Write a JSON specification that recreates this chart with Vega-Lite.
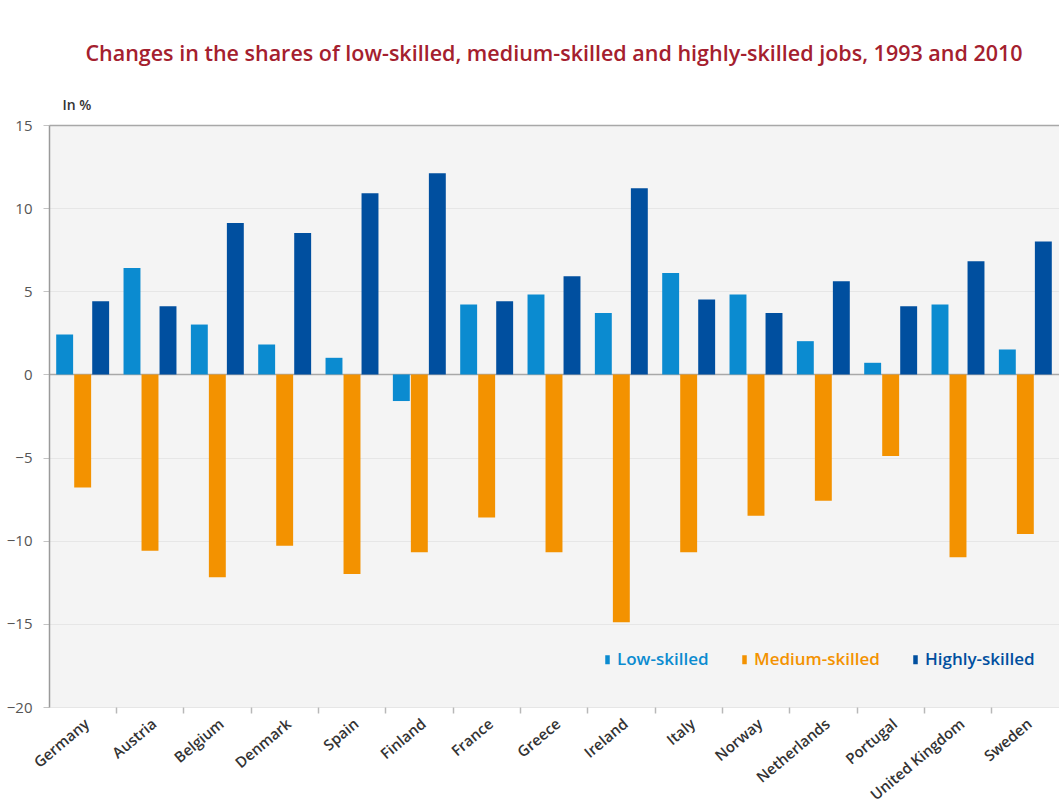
{
  "$schema": "https://vega.github.io/schema/vega-lite/v6.json",
  "width": 1010,
  "height": 582,
  "autosize": {"type": "none"},
  "padding": {"left": 49, "top": 125, "right": 0, "bottom": 103},
  "background": "white",
  "title": {
    "text": "Changes in the shares of low-skilled, medium-skilled and highly-skilled jobs, 1993 and 2010",
    "color": "#a4202e",
    "font": "Open Sans",
    "fontSize": 21.5,
    "fontWeight": 600,
    "anchor": "middle",
    "offset": 33
  },
  "config": {
    "view": {"fill": "#f4f4f4", "stroke": null},
    "font": "Open Sans"
  },
  "data": {
    "values": [
      {"country": "Germany", "skill": "Low-skilled", "change": 2.4},
      {"country": "Germany", "skill": "Medium-skilled", "change": -6.8},
      {"country": "Germany", "skill": "Highly-skilled", "change": 4.4},
      {"country": "Austria", "skill": "Low-skilled", "change": 6.4},
      {"country": "Austria", "skill": "Medium-skilled", "change": -10.6},
      {"country": "Austria", "skill": "Highly-skilled", "change": 4.1},
      {"country": "Belgium", "skill": "Low-skilled", "change": 3.0},
      {"country": "Belgium", "skill": "Medium-skilled", "change": -12.2},
      {"country": "Belgium", "skill": "Highly-skilled", "change": 9.1},
      {"country": "Denmark", "skill": "Low-skilled", "change": 1.8},
      {"country": "Denmark", "skill": "Medium-skilled", "change": -10.3},
      {"country": "Denmark", "skill": "Highly-skilled", "change": 8.5},
      {"country": "Spain", "skill": "Low-skilled", "change": 1.0},
      {"country": "Spain", "skill": "Medium-skilled", "change": -12.0},
      {"country": "Spain", "skill": "Highly-skilled", "change": 10.9},
      {"country": "Finland", "skill": "Low-skilled", "change": -1.6},
      {"country": "Finland", "skill": "Medium-skilled", "change": -10.7},
      {"country": "Finland", "skill": "Highly-skilled", "change": 12.1},
      {"country": "France", "skill": "Low-skilled", "change": 4.2},
      {"country": "France", "skill": "Medium-skilled", "change": -8.6},
      {"country": "France", "skill": "Highly-skilled", "change": 4.4},
      {"country": "Greece", "skill": "Low-skilled", "change": 4.8},
      {"country": "Greece", "skill": "Medium-skilled", "change": -10.7},
      {"country": "Greece", "skill": "Highly-skilled", "change": 5.9},
      {"country": "Ireland", "skill": "Low-skilled", "change": 3.7},
      {"country": "Ireland", "skill": "Medium-skilled", "change": -14.9},
      {"country": "Ireland", "skill": "Highly-skilled", "change": 11.2},
      {"country": "Italy", "skill": "Low-skilled", "change": 6.1},
      {"country": "Italy", "skill": "Medium-skilled", "change": -10.7},
      {"country": "Italy", "skill": "Highly-skilled", "change": 4.5},
      {"country": "Norway", "skill": "Low-skilled", "change": 4.8},
      {"country": "Norway", "skill": "Medium-skilled", "change": -8.5},
      {"country": "Norway", "skill": "Highly-skilled", "change": 3.7},
      {"country": "Netherlands", "skill": "Low-skilled", "change": 2.0},
      {"country": "Netherlands", "skill": "Medium-skilled", "change": -7.6},
      {"country": "Netherlands", "skill": "Highly-skilled", "change": 5.6},
      {"country": "Portugal", "skill": "Low-skilled", "change": 0.7},
      {"country": "Portugal", "skill": "Medium-skilled", "change": -4.9},
      {"country": "Portugal", "skill": "Highly-skilled", "change": 4.1},
      {"country": "United Kingdom", "skill": "Low-skilled", "change": 4.2},
      {"country": "United Kingdom", "skill": "Medium-skilled", "change": -11.0},
      {"country": "United Kingdom", "skill": "Highly-skilled", "change": 6.8},
      {"country": "Sweden", "skill": "Low-skilled", "change": 1.5},
      {"country": "Sweden", "skill": "Medium-skilled", "change": -9.6},
      {"country": "Sweden", "skill": "Highly-skilled", "change": 8.0}
    ]
  },
  "layer": [
    {
      "mark": {"type": "bar"},
      "encoding": {
        "x": {
          "field": "country",
          "type": "nominal",
          "sort": null,
          "scale": {"paddingInner": 0, "paddingOuter": 0},
          "axis": {
            "title": null,
            "labelAngle": -40,
            "ticks": false,
            "domain": false,
            "grid": false,
            "labelFont": "Open Sans",
            "labelFontSize": 15,
            "labelFontWeight": 600,
            "labelColor": "#333333",
            "labelPadding": 9
          }
        },
        "xOffset": {
          "field": "skill",
          "type": "nominal",
          "sort": ["Low-skilled", "Medium-skilled", "Highly-skilled"],
          "scale": {"paddingInner": 0.06, "paddingOuter": 0.4}
        },
        "y": {
          "field": "change",
          "type": "quantitative",
          "scale": {"domain": [-20, 15], "nice": false},
          "axis": {
            "title": "In %",
            "titleAngle": 0,
            "titleAlign": "left",
            "titleBaseline": "alphabetic",
            "titleX": 13,
            "titleY": -16,
            "titleFont": "Open Sans",
            "titleFontSize": 14,
            "titleFontWeight": 600,
            "titleColor": "#333333",
            "values": [-20, -15, -10, -5, 0, 5, 10, 15],
            "labelColor": "#555555",
            "labelFont": "Open Sans",
            "labelFontSize": 15,
            "labelPadding": 11,
            "tickSize": 6,
            "tickColor": "#c4c4c4",
            "domainColor": "#9a9a9a",
            "domainWidth": 1.5,
            "grid": true,
            "gridColor": {"condition": {"test": "datum.value === 0 || datum.value === 15", "value": "#a8a8a8"}, "value": "#e6e6e6"},
            "gridWidth": {"condition": {"test": "datum.value === 0 || datum.value === 15", "value": 1.5}, "value": 1}
          }
        },
        "color": {
          "field": "skill",
          "type": "nominal",
          "sort": ["Low-skilled", "Medium-skilled", "Highly-skilled"],
          "scale": {
            "domain": ["Low-skilled", "Medium-skilled", "Highly-skilled"],
            "range": ["#0b8bd0", "#f39200", "#004f9f"]
          },
          "legend": {
            "title": null,
            "orient": "none",
            "legendX": 550,
            "legendY": 526,
            "direction": "horizontal",
            "symbolType": "M-0.5,-1L0.5,-1L0.5,1L-0.5,1Z",
            "symbolSize": 81,
            "symbolStrokeWidth": 0,
            "labelFont": "Open Sans",
            "labelFontSize": 17,
            "labelFontWeight": 600,
            "labelOffset": 1,
            "columnPadding": 27,
            "encode": {"labels": {"update": {"fill": {"scale": "color", "field": "value"}}}}
          }
        }
      }
    },
    {
      "mark": {"type": "rule", "strokeOpacity": 0},
      "encoding": {
        "x": {
          "field": "country",
          "type": "nominal",
          "sort": null,
          "axis": {
            "orient": "bottom",
            "bandPosition": 0,
            "labels": false,
            "domain": false,
            "grid": false,
            "ticks": true,
            "tickSize": 6,
            "tickColor": "#b8b8b8",
            "tickWidth": 1.5,
            "title": null,
            "values": ["Austria", "Belgium", "Denmark", "Spain", "Finland", "France", "Greece", "Ireland", "Italy", "Norway", "Netherlands", "Portugal", "United Kingdom", "Sweden"]
          }
        }
      }
    }
  ],
  "resolve": {"axis": {"x": "independent"}}
}
